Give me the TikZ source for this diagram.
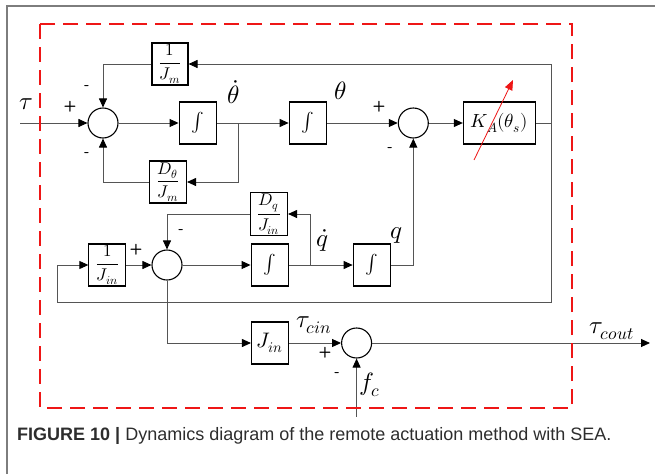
\documentclass[tikz,border=0pt]{standalone}
\usepackage{amsmath}
\usepackage{fontspec}
\usepackage{unicode-math}
\setmathfont{Latin Modern Math}
\newfontfamily\capfont{Liberation Sans}
\usetikzlibrary{arrows.meta, positioning}
\definecolor{wiregray}{RGB}{85,85,85}
\definecolor{framegray}{RGB}{125,125,125}
\definecolor{dashred}{RGB}{238,22,22}
\definecolor{captext}{RGB}{45,45,45}
\tikzset{
  blockbox/.style={
    rectangle, draw=black, line width=1.1pt, fill=white,
    minimum width=37pt, minimum height=42pt, inner sep=1pt,
    font=\fontsize{17}{19}\selectfont
  },
  intbox/.style={blockbox, font=\fontsize{19}{21}\selectfont},
  sumnode/.style={circle, draw=black, line width=1.1pt, fill=white, minimum size=30pt, inner sep=0pt},
  wire/.style={draw=wiregray, line width=0.9pt},
  sig/.style={wire, -{Triangle[length=9pt, width=8pt, color=black]}},
  redvar/.style={draw=dashred, line width=0.8pt, -{Triangle[length=10pt, width=8pt]}},
  dashframe/.style={draw=dashred, line width=2.4pt, dash pattern=on 15pt off 8pt},
  lbl/.style={font=\fontsize{25}{27}\selectfont, inner sep=0pt},
  sign/.style={font=\fontsize{15}{15}\selectfont\sffamily\bfseries, inner sep=0pt},
}

\begin{document}
\begin{tikzpicture}[x=1pt, y=-1pt]
  \useasboundingbox (0,0) rectangle (655,474);

  % --- outer figure frame ---
  \draw[framegray, line width=1.2pt] (7,474) -- (7,6) -- (655,6);

  % --- upper loop: motor side ---
  \node (sum1) [sumnode] at (103,123) {};
  \node (int1) [intbox, right=60pt of sum1] {$\int$};
  \node (int2) [intbox, right=72pt of int1] {$\int$};
  \node (sum2) [sumnode, right=71pt of int2] {};
  \node (ka) [blockbox, minimum width=72pt, right=34pt of sum2, font=\fontsize{19}{21}\selectfont] {$K_A(\theta_s)$};
  \node (jm) [blockbox, minimum width=36pt] at (170,64) {$\dfrac{1}{J_m}$};
  \node (dth) [blockbox] at (168,182) {$\dfrac{D_\theta}{J_m}$};

  % --- lower loop: input side ---
  \node (sum3) [sumnode] at (167,265) {};
  \node (jin1) [blockbox, left=25pt of sum3] {$\dfrac{1}{J_{in}}$};
  \node (int3) [intbox, right=68pt of sum3] {$\int$};
  \node (int4) [intbox, right=64pt of int3] {$\int$};
  \node (dq) [blockbox] at (269,214) {$\dfrac{D_q}{J_{in}}$};

  % --- output row ---
  \node (jin2) [blockbox, font=\fontsize{21}{23}\selectfont] at (270,343) {$J_{in}$};
  \node (sum4) [sumnode, right=52pt of jin2] {};

  % --- free ends and branch points ---
  \coordinate (tin) at (20,123);
  \coordinate (br1) at (238,123);
  \coordinate (kr) at (551,123);
  \coordinate (lb) at (57,302);
  \coordinate (br2) at (310,265);
  \coordinate (fcin) at ([yshift=-58pt]sum4.south);
  \coordinate (tout) at (650,343);
  \coordinate (ra1) at (474,160);
  \coordinate (ra2) at (513,80);

  % --- connectors ---
  \draw[sig] (tin) -- (sum1);
  \draw[sig] (sum1) -- (int1);
  \draw[sig] (int1) -- (int2);
  \draw[sig] (br1) |- (dth.east);
  \draw[sig] (dth.west) -| (sum1.south);
  \draw[sig] (int2) -- (sum2);
  \draw[sig] (sum2) -- (ka);
  \draw[wire] (ka.east) -- (kr);
  \draw[sig] (kr) |- (jm.east);
  \draw[sig] (jm.west) -| (sum1.north);
  \draw[sig] (kr) |- (lb) |- (jin1.west);
  \draw[sig] (jin1) -- (sum3);
  \draw[sig] (sum3) -- (int3);
  \draw[sig] (int3) -- (int4);
  \draw[sig] (br2) |- (dq.east);
  \draw[sig] (dq.west) -| (sum3.north);
  \draw[sig] (int4.east) -| (sum2.south);
  \draw[sig] (sum3.south) |- (jin2.west);
  \draw[sig] (jin2) -- (sum4);
  \draw[sig] (fcin) -- (sum4);
  \draw[sig] (sum4) -- (tout);

  % --- variable stiffness arrow ---
  \draw[redvar] (ra1) -- (ra2);

  % --- signal labels ---
  \node (ltau) [lbl] at (26,104) {$\tau$};
  \node (lthd) [lbl] at (234,92) {$\dot{\theta}$};
  \node (lth) [lbl] at (341,91) {$\theta$};
  \node (lqd) [lbl] at (322,240) {$\dot{q}$};
  \node (lq) [lbl] at (396,235) {$q$};
  \node (ltcin) [lbl] at (314,325) {$\tau_{cin}$};
  \node (lfc) [lbl] at (370,385) {$f_c$};
  \node (ltcout) [lbl] at (612,331) {$\tau_{cout}$};

  % --- summing signs ---
  \node (s1p) [sign] at (70,107) {+};
  \node (s1a) [sign] at (87,88) {-};
  \node (s1b) [sign] at (87,155) {-};
  \node (s2p) [sign] at (379,107) {+};
  \node (s2m) [sign] at (390,150) {-};
  \node (s3p) [sign] at (136,250) {+};
  \node (s3m) [sign] at (181,232) {-};
  \node (s4p) [sign] at (325,353) {+};
  \node (s4m) [sign] at (337,375) {-};

  % --- dashed boundary ---
  \draw[dashframe] (40,24) rectangle (572,408);

  % --- caption ---
  \node (caption) [anchor=west, inner sep=0pt, text=captext, font=\capfont\fontsize{18}{20}\selectfont] at (17,436)
        {\textbf{FIGURE 10 |} Dynamics diagram of the remote actuation method with SEA.};

\end{tikzpicture}
\end{document}
